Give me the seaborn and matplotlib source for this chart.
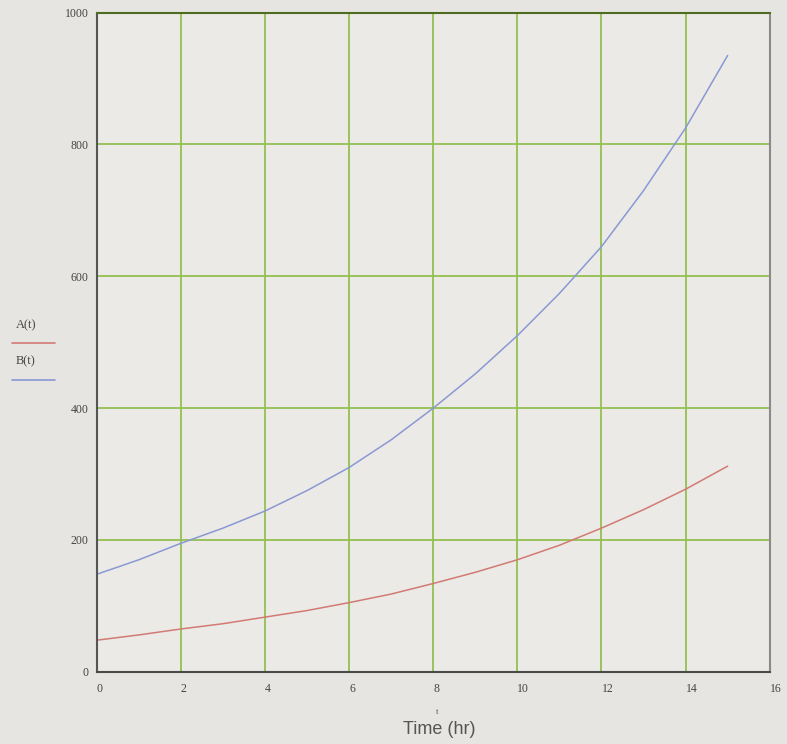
import numpy as np
import pandas as pd
import matplotlib
matplotlib.use("Agg")
import matplotlib.pyplot as plt
import seaborn as sns
from matplotlib.lines import Line2D

# values, one per hour
hours = [0, 1, 2, 3, 4, 5, 6, 7, 8, 9, 10, 11, 12, 13, 14, 15]
a_vals = [48, 56, 65, 73, 83, 93, 105, 118, 134, 151, 170, 192, 218, 246, 277, 312]
b_vals = [148, 170, 195, 218, 244, 275, 310, 352, 400, 452, 510, 574, 645, 730, 825, 935]
x_ticks = [0, 2, 4, 6, 8, 10, 12, 14, 16]
y_ticks = [0, 200, 400, 600, 800, 1000]

df = pd.DataFrame({"t": hours + hours,
                   "val": a_vals + b_vals,
                   "series": ["A(t)"] * len(hours) + ["B(t)"] * len(hours)})

sns.set_style("white")
plt.rcParams['font.family'] = ['Liberation Serif', 'DejaVu Serif']

bg = "#e6e5e1"
fig = plt.figure(figsize=(7.87, 7.44), dpi=100, facecolor=bg)
ax = fig.add_axes([0.123, 0.097, 0.855, 0.886])
ax.set_facecolor("#ebeae6")

palette = {"A(t)": "#d27a74", "B(t)": "#8a98d4"}
sns.lineplot(data=df, x="t", y="val", hue="series", palette=palette,
             linewidth=1.1, legend=False, ax=ax)

ax.set_xlim(0, 16)
ax.set_ylim(0, 1000)
ax.set_xticks(x_ticks)
ax.set_yticks(y_ticks)
ax.grid(True, color="#93c050", linewidth=1.3)
ax.set_axisbelow(True)
ax.tick_params(length=0, labelsize=8.5, colors="#444444")
ax.tick_params(axis="x", pad=8)
ax.tick_params(axis="y", pad=6)
for lbl in ax.get_xticklabels():
    lbl.set_horizontalalignment("left")

ax.spines["left"].set_color("#555555")
ax.spines["bottom"].set_color("#4a4a4a")
ax.spines["top"].set_color("#4d6e22")
ax.spines["right"].set_color("#8a8a8a")
for s in ax.spines.values():
    s.set_linewidth(1.5)

ax.set_xlabel("")
ax.set_ylabel("")
fig.text(0.558, 0.019, "Time (hr)", family=['Liberation Sans', 'DejaVu Sans'],
         fontsize=13, color="#555555", ha="center", va="center")
fig.text(0.555, 0.043, "t", fontsize=6, color="#555555", ha="center", va="center")

# y-axis legend the way the original draws it
fig.text(0.02, 0.563, "A(t)", fontsize=9, color="#444444", va="center")
fig.add_artist(Line2D([0.015, 0.07], [0.539, 0.539], color=palette["A(t)"],
                      linewidth=1.2, transform=fig.transFigure))
fig.text(0.02, 0.515, "B(t)", fontsize=9, color="#444444", va="center")
fig.add_artist(Line2D([0.015, 0.07], [0.489, 0.489], color=palette["B(t)"],
                      linewidth=1.2, transform=fig.transFigure))

fig.savefig("out.png", dpi=100, facecolor=bg)
